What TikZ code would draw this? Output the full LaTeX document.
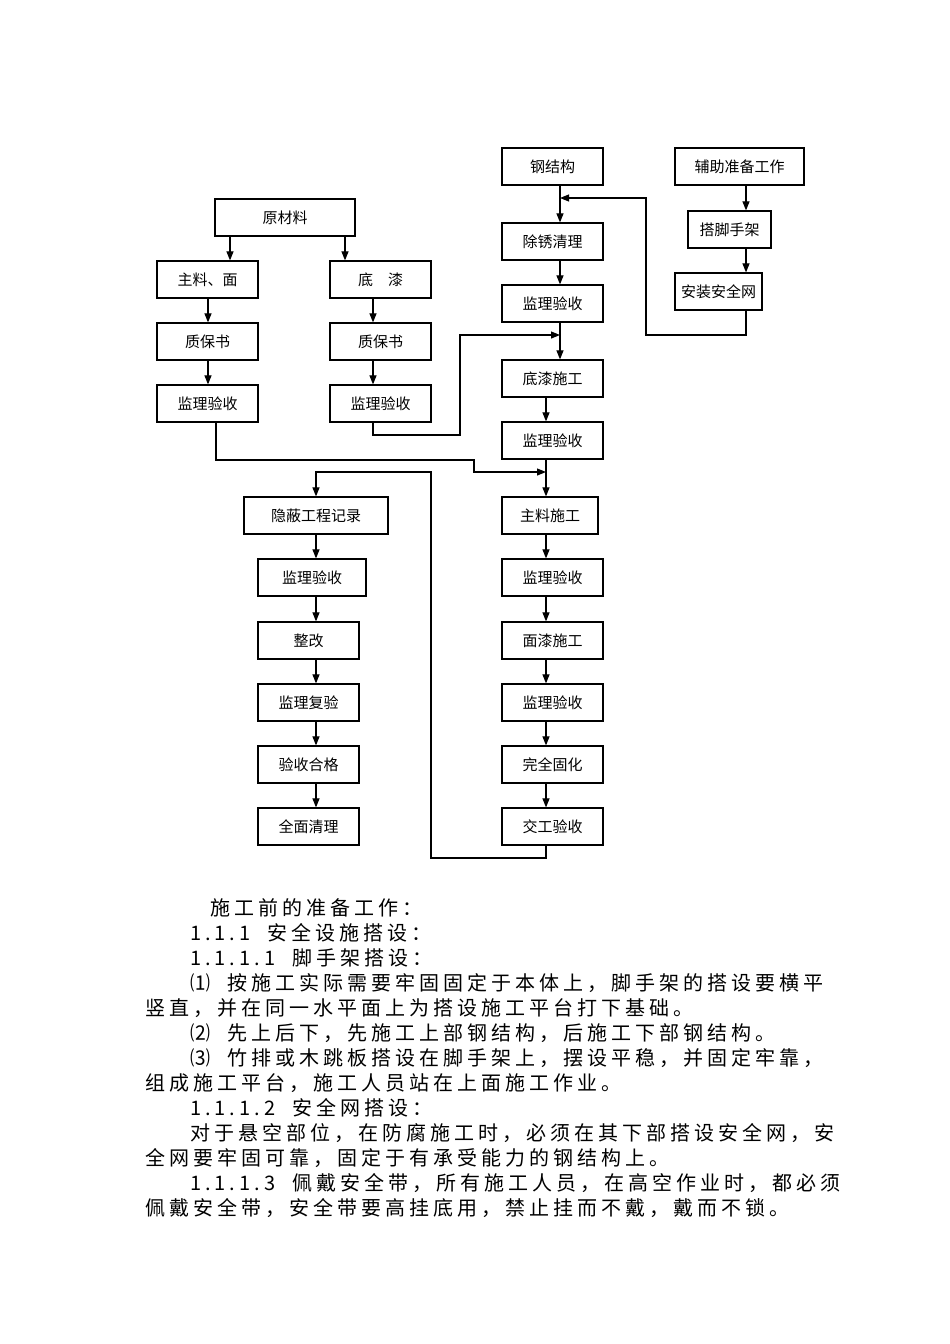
\documentclass[tikz,border=0pt]{standalone}
\usepackage{fontspec}
\setmainfont{Noto Sans CJK SC}
\usetikzlibrary{arrows.meta}
\begin{document}
\begin{tikzpicture}[x=1pt,y=-1pt,
 bx/.style={draw,line width=1.2pt,minimum height=37pt,inner sep=0pt,font=\fontsize{15}{17}\selectfont},
 ln/.style={line width=1.1pt},
 ar/.style={line width=1.1pt,-{Triangle[length=9pt,width=7pt]}},
 tx/.style={anchor=base west,inner sep=0pt,font=\fontsize{20}{22}\selectfont\addfontfeature{LetterSpace=20}}]
\useasboundingbox (0,0) rectangle (950,1344);
\def\B#1#2#3#4#5#6{\node[bx,minimum width=#4pt-#3pt] (#1) at ({(#3+#4)/2},{(#5+#6)/2}) {#2};}
\B{ycl}{原材料}{215}{355}{199}{236}
\B{zl}{主料、面}{157}{258}{261}{298}
\B{dq}{底\quad 漆}{330}{431}{261}{298}
\B{zb1}{质保书}{157}{258}{323}{360}
\B{zb2}{质保书}{330}{431}{323}{360}
\B{ys1}{监理验收}{157}{258}{385}{422}
\B{ys2}{监理验收}{330}{431}{385}{422}
\B{gjg}{钢结构}{502}{603}{148}{185}
\B{cx}{除锈清理}{502}{603}{223}{260}
\B{ys3}{监理验收}{502}{603}{285}{322}
\B{dqsg}{底漆施工}{502}{603}{360}{397}
\B{ys4}{监理验收}{502}{603}{422}{459}
\B{zlsg}{主料施工}{502}{598}{497}{534}
\B{ys5}{监理验收}{502}{603}{559}{596}
\B{mq}{面漆施工}{502}{603}{622}{659}
\B{ys6}{监理验收}{502}{603}{684}{721}
\B{gh}{完全固化}{502}{603}{746}{783}
\B{jg}{交工验收}{502}{603}{808}{845}
\B{fz}{辅助准备工作}{675}{804}{148}{185}
\B{jsj}{搭脚手架}{688}{771}{211}{248}
\B{aqw}{安装安全网}{675}{762}{273}{310}
\B{yb}{隐蔽工程记录}{244}{388}{497}{534}
\B{ys7}{监理验收}{258}{366}{559}{596}
\B{zg}{整改}{258}{359}{622}{659}
\B{fy}{监理复验}{258}{359}{684}{721}
\B{hg}{验收合格}{258}{359}{746}{783}
\B{ql}{全面清理}{258}{359}{808}{845}
% arrows
\draw[ar] (ycl.south -| 230,0) -- (zl.north -| 230,0);
\draw[ar] (ycl.south -| 345,0) -- (dq.north -| 345,0);
\draw[ar] (zl.south -| 208,0) -- (zb1.north -| 208,0);
\draw[ar] (zb1.south -| 208,0) -- (ys1.north -| 208,0);
\draw[ar] (dq.south -| 373,0) -- (zb2.north -| 373,0);
\draw[ar] (zb2.south -| 373,0) -- (ys2.north -| 373,0);
\draw[ar] (fz.south -| 746,0) -- (jsj.north -| 746,0);
\draw[ar] (jsj.south -| 746,0) -- (aqw.north -| 746,0);
\draw[ar] (gjg.south -| 560,0) -- (cx.north -| 560,0);
\draw[ar] (cx.south -| 560,0) -- (ys3.north -| 560,0);
\draw[ar] (ys3.south -| 560,0) -- (dqsg.north -| 560,0);
\draw[ar] (dqsg.south -| 546,0) -- (ys4.north -| 546,0);
\draw[ar] (ys4.south -| 546,0) -- (zlsg.north -| 546,0);
\draw[ar] (zlsg.south -| 546,0) -- (ys5.north -| 546,0);
\draw[ar] (ys5.south -| 546,0) -- (mq.north -| 546,0);
\draw[ar] (mq.south -| 546,0) -- (ys6.north -| 546,0);
\draw[ar] (ys6.south -| 546,0) -- (gh.north -| 546,0);
\draw[ar] (gh.south -| 546,0) -- (jg.north -| 546,0);
\draw[ar] (yb.south -| 316,0) -- (ys7.north -| 316,0);
\draw[ar] (ys7.south -| 316,0) -- (zg.north -| 316,0);
\draw[ar] (zg.south -| 316,0) -- (fy.north -| 316,0);
\draw[ar] (fy.south -| 316,0) -- (hg.north -| 316,0);
\draw[ar] (hg.south -| 316,0) -- (ql.north -| 316,0);
% side connectors
\coordinate (m1) at (560,198);
\draw[ar] (aqw.south -| 746,0) -- (746,335) -- (646,335) -- (646,198) -- (m1);
\coordinate (m2) at (560,335);
\draw[ar] (ys2.south -| 373,0) -- (373,435) -- (460,435) -- (460,335) -- (m2);
\coordinate (m3) at (546,472);
\draw[ar] (ys1.south -| 216,0) -- (216,460) -- (474,460) -- (474,472) -- (m3);
\draw[ar] (jg.south -| 546,0) -- (546,858) -- (431,858) -- (431,472) -- (316,472) -- (yb.north -| 316,0);
% text
\node[tx] (t1) at (210,915) {施工前的准备工作：};
\node[tx] (t2) at (190,940) {1.1.1\ \ 安全设施搭设：};
\node[tx] (t3) at (190,965) {1.1.1.1\ \ 脚手架搭设：};
\node[tx] (t4) at (190,990) {⑴\ \ 按施工实际需要牢固固定于本体上，脚手架的搭设要横平};
\node[tx] (t5) at (145,1015) {竖直，并在同一水平面上为搭设施工平台打下基础。};
\node[tx] (t6) at (190,1040) {⑵\ \ 先上后下，先施工上部钢结构，后施工下部钢结构。};
\node[tx] (t7) at (190,1065) {⑶\ \ 竹排或木跳板搭设在脚手架上，摆设平稳，并固定牢靠，};
\node[tx] (t8) at (145,1090) {组成施工平台，施工人员站在上面施工作业。};
\node[tx] (t9) at (190,1115) {1.1.1.2\ \ 安全网搭设：};
\node[tx] (t10) at (190,1140) {对于悬空部位，在防腐施工时，必须在其下部搭设安全网，安};
\node[tx] (t11) at (145,1165) {全网要牢固可靠，固定于有承受能力的钢结构上。};
\node[tx] (t12) at (190,1190) {1.1.1.3\ \ 佩戴安全带，所有施工人员，在高空作业时，都必须};
\node[tx] (t13) at (145,1215) {佩戴安全带，安全带要高挂底用，禁止挂而不戴，戴而不锁。};
\end{tikzpicture}
\end{document}
